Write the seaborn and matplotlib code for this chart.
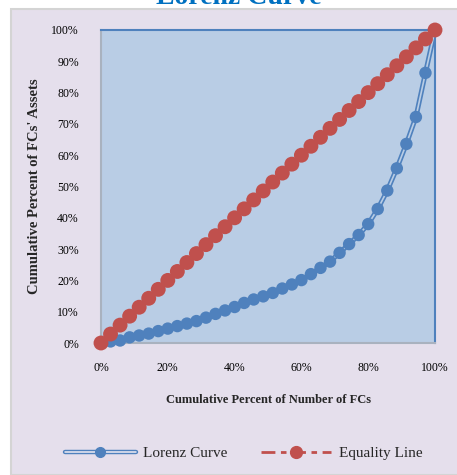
import numpy as np
import pandas as pd
import matplotlib
matplotlib.use("Agg")
import matplotlib.pyplot as plt
import seaborn as sns
from matplotlib.lines import Line2D
from matplotlib.patches import Rectangle
from matplotlib.ticker import PercentFormatter

# cumulative share of FCs (x) and of their assets (y), in percent
cum_fcs = [i * 100 / 35 for i in range(36)]
lorenz = [0.0, 0.5, 0.8, 1.8, 2.4, 3.0, 3.8, 4.6, 5.4, 6.2, 7.0, 8.1,
          9.3, 10.4, 11.5, 12.8, 13.9, 14.9, 16.0, 17.4, 18.7, 20.1,
          22.0, 24.0, 26.0, 28.8, 31.6, 34.5, 38.0, 42.8, 48.7, 55.8,
          63.6, 72.2, 86.3, 100.0]
equality = list(cum_fcs)

x_ticks = [0, 20, 40, 60, 80, 100]
y_ticks = [0, 10, 20, 30, 40, 50, 60, 70, 80, 90, 100]

BLUE = "#4f81bd"
RED = "#c0504d"
PLOT_BG = "#b9cde5"
FIG_BG = "#e5dfec"

sns.set_theme(style="white")
plt.rcParams["font.family"] = ["Liberation Serif", "DejaVu Serif"]

df = pd.DataFrame({"x": cum_fcs, "lorenz": lorenz, "equality": equality})

fig = plt.figure(figsize=(4.57, 4.75), dpi=100, facecolor="white")
# lavender chart area with grey frame
fig.patches.append(Rectangle((11 / 457, 0), 1, 1 - 9 / 475, transform=fig.transFigure,
                             facecolor=FIG_BG, edgecolor="#d4d4d4", linewidth=1.5, zorder=0))

ax = fig.add_axes([101 / 457, 1 - 343 / 475, 334 / 457, 313 / 475])
ax.set_zorder(2)
ax.set_facecolor(PLOT_BG)

# Lorenz curve: double (compound) line with markers
sns.lineplot(data=df, x="x", y="lorenz", ax=ax, color=BLUE, lw=3.6, zorder=3)
sns.lineplot(data=df, x="x", y="lorenz", ax=ax, color=PLOT_BG, lw=1.2, zorder=4)
sns.scatterplot(data=df, x="x", y="lorenz", ax=ax, color=BLUE, s=80,
                edgecolor="none", zorder=5, clip_on=False)

# equality line
sns.lineplot(data=df, x="x", y="equality", ax=ax, color=RED, lw=2, zorder=6)
ax.lines[-1].set_dashes([5, 2, 2, 2])
sns.scatterplot(data=df, x="x", y="equality", ax=ax, color=RED, s=115,
                edgecolor="none", zorder=7, clip_on=False)

ax.set_xlim(0, 100)
ax.set_ylim(0, 100)
ax.set_xticks(x_ticks)
ax.set_yticks(y_ticks)
ax.xaxis.set_major_formatter(PercentFormatter(decimals=0))
ax.yaxis.set_major_formatter(PercentFormatter(decimals=0))
ax.tick_params(length=0, labelsize=8.5, colors="black")
ax.tick_params(axis="x", pad=14)
ax.tick_params(axis="y", pad=16)

for side in ["left", "bottom"]:
    ax.spines[side].set_color("#a9b2bf")
    ax.spines[side].set_linewidth(1.5)
for side in ["top", "right"]:
    ax.spines[side].set_color(BLUE)
    ax.spines[side].set_linewidth(1.5)

ax.set_xlabel("Cumulative Percent of Number of FCs", fontsize=9, fontweight="bold", labelpad=14)
ax.set_ylabel("Cumulative Percent of FCs' Assets", fontsize=10.5, fontweight="bold", labelpad=7)

fig.text(239 / 457, 1 - 4 / 475, "Lorenz Curve", ha="center", va="baseline",
         fontsize=20, fontweight="bold", color="#0070c0")

# legend (double line for Lorenz curve)
h_lor = (Line2D([], [], color=BLUE, lw=3.2),
         Line2D([], [], color="#f0edf5", lw=1.1),
         Line2D([], [], color=BLUE, lw=0, marker="o", markersize=7))
h_eq = Line2D([], [], color=RED, lw=2, dashes=[5, 2, 2, 2],
              marker="o", markersize=8.5)
fig.legend([h_lor, h_eq], ["Lorenz Curve", "Equality Line"], loc="center",
           bbox_to_anchor=(244 / 457, 1 - 453 / 475), ncol=2, frameon=False,
           fontsize=11, handlelength=4.6, handletextpad=0.5, columnspacing=2.2)

fig.savefig("out.png", dpi=100, facecolor=fig.get_facecolor())
